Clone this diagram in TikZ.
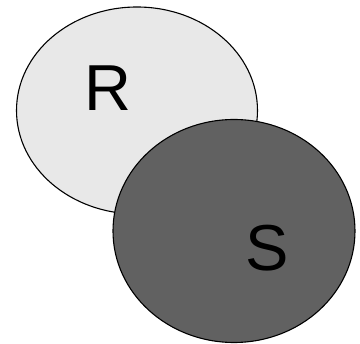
\documentclass[tikz,border=0pt]{standalone}
\usepackage{fontspec}
\setmainfont{Liberation Sans}
\begin{document}
\begin{tikzpicture}[x=1pt,y=-1pt,
  setshape/.style={draw=black,line width=1.1pt},
  setlabel/.style={font=\fontsize{65}{70}\selectfont,text=black,inner sep=0pt}]
\useasboundingbox (0,0) rectangle (360,344);
% set R (light) and set S (dark, drawn on top)
\path[setshape,fill=black!9] (137,110.5) ellipse [x radius=120.5,y radius=103.5];
\path[setshape,fill=black!62] (234,231) ellipse [x radius=121,y radius=111.5];
\node[setlabel] (R) at (108,88.5) {R};
\node[setlabel] (S) at (267,248) {S};
\end{tikzpicture}
\end{document}
